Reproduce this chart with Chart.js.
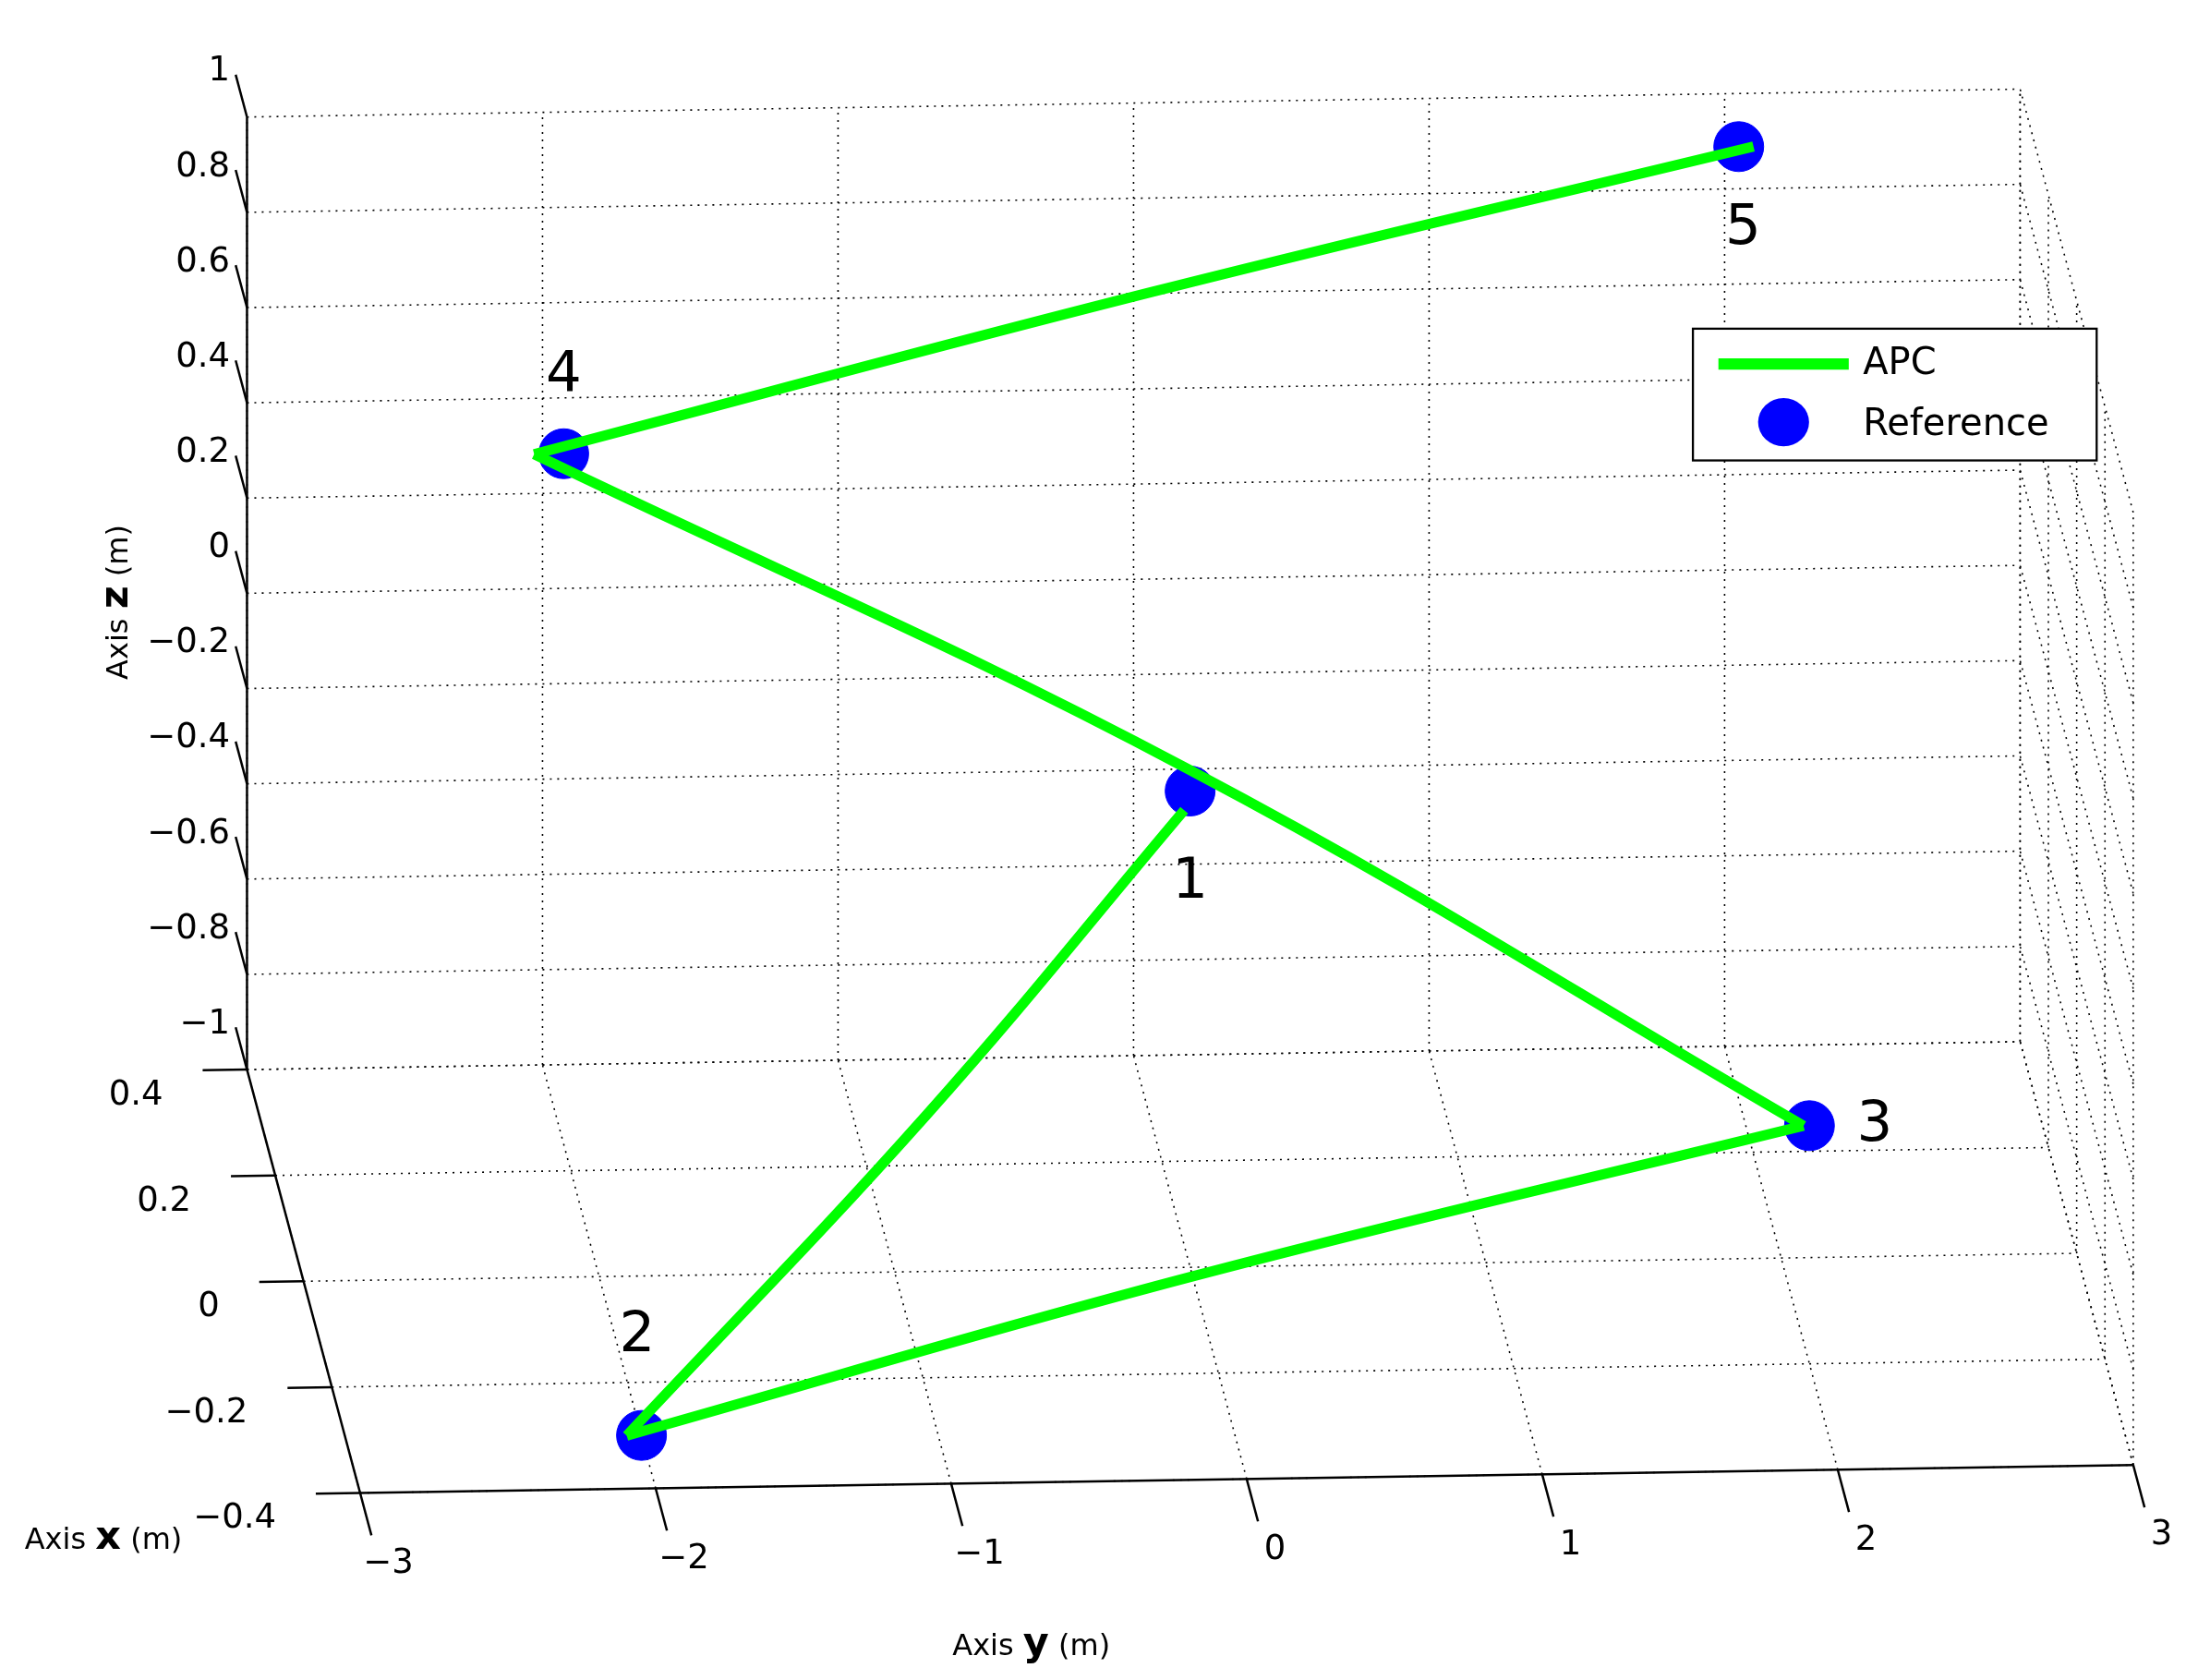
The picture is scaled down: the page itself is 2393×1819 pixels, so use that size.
<!DOCTYPE html>
<html><head><meta charset="utf-8">
<script src="https://cdn.jsdelivr.net/npm/chart.js@4"></script>
<style>html,body{margin:0;padding:0;background:#fff}#wrap{width:2393px;height:1819px}</style>
</head><body><div id="wrap"><canvas id="c"></canvas></div>
<script>
// 3D data (axis y, axis x, axis z) in metres
const pointLabels = ['1','2','3','4','5'];
const refY = [0, -2, 2, -2, 2];
const refX = [0, -0.3, -0.2, 0.25, 0.3];
const refZ = [0, -1, -0.5, 0.45, 1];
// APC path legs: start, read-off middle, end
const apcLegY = [[-0.02,-0.89,-2.05],[-2.05,-0.11,1.98],[1.98,0,-2.1],[-2.1,-0.01,2.05]];
const apcLegX = [[0,0,-0.3],[-0.3,-0.25,-0.2],[-0.2,0,0.25],[0.25,0.25,0.3]];
const apcLegZ = [[-0.04,-0.67,-1],[-1,-0.74,-0.5],[-0.5,0.044,0.45],[0.45,0.77,1]];
const yTicks = [-3,-2,-1,0,1,2,3];
const xTicks = [0.4,0.2,0,-0.2,-0.4];
const zTicks = [1,0.8,0.6,0.4,0.2,0,-0.2,-0.4,-0.6,-0.8,-1];

// fixed view projection into reference display units (1560 x 1190)
function P(y,x,z){ return {x: 848 + 209*y - 100*x, y: 560 - 3.3*y - 375*x - 337.5*z}; }
const ds = [];
function seg(a,b,style){ ds.push(Object.assign({data:[P(...a),P(...b)],showLine:true,pointRadius:0,borderColor:'#000',borderWidth:1.6,borderDash:[2,6],order:5},style||{})); }
yTicks.forEach(y=>seg([y,0.4,-1],[y,0.4,1]));
zTicks.forEach(z=>seg([-3,0.4,z],[3,0.4,z]));
yTicks.forEach(y=>seg([y,-0.4,-1],[y,0.4,-1]));
xTicks.forEach(x=>seg([-3,x,-1],[3,x,-1]));
xTicks.forEach(x=>seg([3,x,-1],[3,x,1]));
zTicks.forEach(z=>seg([3,-0.4,z],[3,0.4,z]));
const solid={borderDash:[],borderWidth:2.5,order:4};
seg([-3,0.4,-1],[-3,0.4,1],solid);
seg([-3,0.4,-1],[-3,-0.4,-1],solid);
seg([-3,-0.4,-1],[3,-0.4,-1],solid);
zTicks.forEach(z=>seg([-3,0.4,z],[-3,0.48,z],solid));
xTicks.forEach(x=>seg([-3,x,-1],[-3.15,x,-1],solid));
yTicks.forEach(y=>seg([y,-0.4,-1],[y,-0.48,-1],solid));
ds.push({data:refY.map((y,i)=>P(y,refX[i],refZ[i])),showLine:false,pointRadius:27,pointBackgroundColor:'#0000ff',pointBorderColor:'#0000ff',order:2});
apcLegY.forEach((ly,j)=>ds.push({data:ly.map((y,i)=>P(y,apcLegX[j][i],apcLegZ[j][i])),showLine:true,tension:0.4,pointRadius:0,borderColor:'#00ff00',borderWidth:11,borderCapStyle:'butt',order:1}));

const textPlugin={id:'txt',afterDraw(ch){
  const c=ch.ctx, sx=ch.scales.x, sy=ch.scales.y;
  const px=p=>({x:sx.getPixelForValue(p.x),y:sy.getPixelForValue(p.y)});
  const k=ch.width/1560;
  c.save(); c.fillStyle='#000';
  const f=(s,b)=>(b?'bold ':'')+Math.round(s*k)+'px "DejaVu Sans"';
  const m=v=>String(v).replace('-','\u2212');
  c.font=f(24); c.textAlign='right'; c.textBaseline='middle';
  zTicks.forEach(z=>{const p=px(P(-3,0.48,z)); c.fillText(m(z),p.x-4*k,p.y-2*k);});
  xTicks.forEach(x=>{const p=px(P(-3.15,x,-1)); c.fillText(m(x),p.x-28*k,p.y+18*k);});
  c.textAlign='center'; c.textBaseline='top';
  yTicks.forEach(y=>{const p=px(P(y,-0.48,-1)); c.fillText(m(y),p.x+12*k,p.y+8*k);});
  const off=[[0,65],[-3,-70],[46,0],[0,-55],[3,58]];
  c.font=f(40); c.textBaseline='middle';
  pointLabels.forEach((l,i)=>{const p=px(P(refY[i],refX[i],refZ[i])); c.fillText(l,p.x+off[i][0]*k,p.y+off[i][1]*k);});
  function title(x,y,rot,letter){
    c.save(); c.translate(x*k,y*k); c.rotate(rot);
    const parts=[['Axis ',f(21)],[letter,f(28,true)],[' (m)',f(21)]];
    let w=0; parts.forEach(p=>{c.font=p[1]; w+=c.measureText(p[0]).width;});
    let cx=-w/2; c.textAlign='left'; c.textBaseline='alphabetic';
    parts.forEach(p=>{c.font=p[1]; c.fillText(p[0],cx,8*k); cx+=c.measureText(p[0]).width;});
    c.restore();
  }
  title(82,425,-Math.PI/2,'z');
  title(73,1085,0,'x');
  title(728,1160,0,'y');
  c.strokeStyle='#000'; c.lineWidth=1.5*k; c.fillStyle='#fff';
  c.fillRect(1195*k,232*k,285*k,93*k); c.strokeRect(1195*k,232*k,285*k,93*k);
  c.strokeStyle='#00ff00'; c.lineWidth=8*k; c.beginPath(); c.moveTo(1213*k,257*k); c.lineTo(1305*k,257*k); c.stroke();
  c.fillStyle='#0000ff'; c.beginPath(); c.ellipse(1259*k,298*k,18*k,17*k,0,0,Math.PI*2); c.fill();
  c.fillStyle='#000'; c.font=f(26); c.textAlign='left'; c.textBaseline='middle';
  c.fillText('APC',1315*k,257*k); c.fillText('Reference',1315*k,300*k);
  c.restore();
}};
new Chart(document.getElementById('c'),{type:'scatter',data:{datasets:ds},
 options:{responsive:true,maintainAspectRatio:false,animation:false,layout:{padding:0},
  plugins:{legend:{display:false},tooltip:{enabled:false}},
  scales:{x:{type:'linear',min:24.6,max:1551,display:false},y:{type:'linear',min:17.8,max:1171.6,reverse:true,display:false}}},
 plugins:[textPlugin]});
</script></body></html>
